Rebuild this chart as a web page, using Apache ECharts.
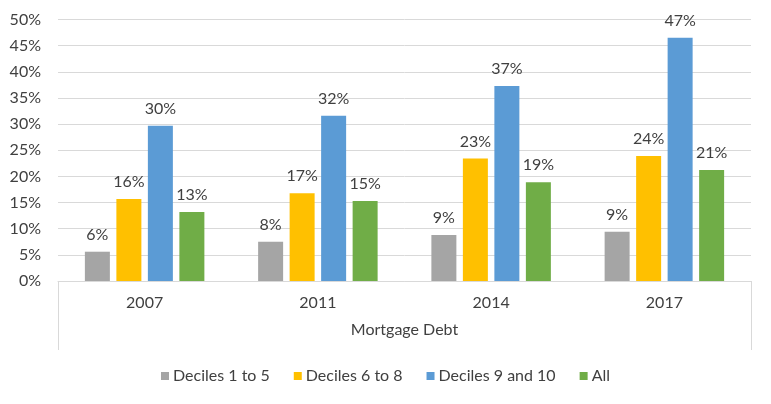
<!DOCTYPE html>
<html><head><meta charset="utf-8">
<script src="https://cdn.jsdelivr.net/npm/echarts@6/dist/echarts.min.js"></script>
<style>html,body{margin:0;padding:0;background:#fff}#c{width:771px;height:404px}</style>
</head><body><div id="c"></div>
<script>
const years = ['2007', '2011', '2014', '2017'];
const groupLabel = ['Mortgage Debt'];
const seriesNames = ['Deciles 1 to 5', 'Deciles 6 to 8', 'Deciles 9 and 10', 'All'];
const deciles1to5 = [5.6, 7.5, 8.8, 9.4];
const deciles6to8 = [15.7, 16.8, 23.4, 23.9];
const deciles9and10 = [29.7, 31.6, 37.3, 46.5];
const allHouseholds = [13.2, 15.3, 18.9, 21.2];
const colors = ['#a5a5a5', '#ffc000', '#5b9bd5', '#70ad47'];

const FONT = 'Lato';
const FS = 16;
const TXT = '#404040';
const values = [deciles1to5, deciles6to8, deciles9and10, allHouseholds];

const chart = echarts.init(document.getElementById('c'));
chart.setOption({
  animation: false,
  textStyle: { fontFamily: FONT },
  grid: { left: 58, right: 20, top: 19.5, bottom: 123 },
  legend: {
    bottom: 15, left: 'center',
    itemWidth: 8, itemHeight: 8, itemGap: 24,
    icon: 'rect',
    textStyle: { fontFamily: FONT, fontSize: FS, color: TXT, padding: [0, 0, 0, -1] },
    data: seriesNames
  },
  xAxis: [{
    type: 'category', data: years,
    axisLine: { lineStyle: { color: '#d9d9d9' } },
    axisTick: { show: false },
    axisLabel: { margin: 14, fontSize: FS, color: TXT, fontFamily: FONT }
  }, {
    type: 'category', data: groupLabel, position: 'bottom',
    axisLine: { show: false },
    axisTick: { show: true, length: 69, lineStyle: { color: '#d9d9d9' } },
    axisLabel: { margin: 41, fontSize: FS, color: TXT, fontFamily: FONT }
  }],
  yAxis: {
    type: 'value', min: 0, max: 50, interval: 5,
    axisLine: { show: false }, axisTick: { show: false },
    splitLine: { lineStyle: { color: '#d9d9d9' } },
    axisLabel: { formatter: '{value}%', margin: 17, fontSize: FS, color: TXT, fontFamily: FONT }
  },
  series: seriesNames.map((n, i) => ({
    name: n, type: 'bar', xAxisIndex: 0, data: values[i],
    barWidth: 25, barGap: '26%',
    itemStyle: { color: colors[i] },
    label: {
      show: true, position: 'top', distance: 9,
      formatter: p => Math.round(p.value) + '%',
      fontSize: FS, color: TXT, fontFamily: FONT
    }
  }))
});
</script></body></html>
